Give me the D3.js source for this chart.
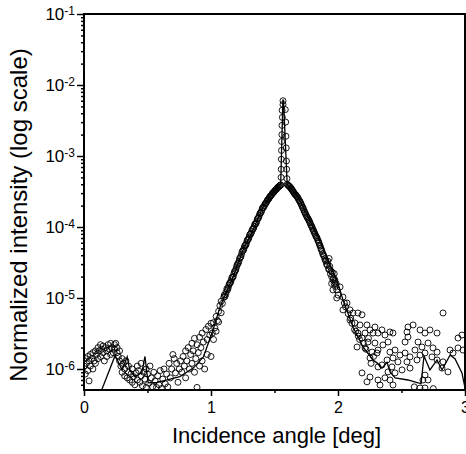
<!DOCTYPE html>
<html>
<head>
<meta charset="utf-8">
<script src="https://cdn.jsdelivr.net/npm/d3@7"></script>
<style>
  body { margin: 0; background: #fff; }
  svg { display: block; font-family: "Liberation Sans", Arial, sans-serif; }
</style>
</head>
<body>
<div id="chart"></div>
<script>
// measured reflectivity scan, [angle (deg), normalized intensity]
var scatterLow = [
  [0.00,1.1e-6],[0.01,1.4e-6],[0.01,8.5e-7],[0.02,1.2e-6],[0.03,1.5e-6],[0.03,9.5e-7],[0.04,1.3e-6],[0.04,6.8e-7],
  [0.05,1.1e-6],[0.05,1.6e-6],[0.06,1.4e-6],[0.07,1.0e-6],[0.07,1.7e-6],[0.08,1.3e-6],[0.09,1.8e-6],[0.09,1.2e-6],
  [0.10,1.6e-6],[0.11,2.0e-6],[0.11,1.4e-6],[0.12,1.8e-6],[0.13,2.2e-6],[0.13,1.5e-6],[0.14,1.9e-6],[0.15,1.7e-6],
  [0.15,2.1e-6],[0.16,1.3e-6],[0.17,2.0e-6],[0.18,1.8e-6],[0.18,1.5e-6],[0.19,2.2e-6],[0.20,1.9e-6],[0.21,1.6e-6],
  [0.21,2.3e-6],[0.22,2.0e-6],[0.23,1.7e-6],[0.24,2.2e-6],[0.24,1.9e-6],[0.25,2.3e-6],[0.26,1.7e-6],[0.26,2.0e-6],
  [0.27,1.5e-6],[0.28,1.3e-6],[0.28,1.8e-6],[0.29,1.1e-6],[0.30,1.4e-6],[0.30,9.0e-7],[0.31,1.2e-6],[0.32,8.0e-7],
  [0.32,1.0e-6],[0.33,1.3e-6],[0.34,7.5e-7],[0.35,9.0e-7],[0.35,1.1e-6],[0.36,7.0e-7],[0.37,8.5e-7],[0.38,6.5e-7],
  [0.38,1.0e-6],[0.39,7.8e-7],[0.40,6.0e-7],[0.41,8.8e-7],[0.42,7.0e-7],[0.42,1.1e-6],[0.43,9.5e-7],[0.44,6.5e-7],
  [0.45,8.0e-7],[0.45,1.2e-6],[0.46,5.8e-7],[0.47,9.0e-7],[0.48,7.2e-7],[0.49,1.0e-6],[0.49,5.5e-7],[0.50,8.5e-7],
  [0.51,6.3e-7],[0.52,1.1e-6],[0.53,7.5e-7],[0.54,5.6e-7],[0.55,9.0e-7],[0.56,6.8e-7]
];
var scatterRise = [
  [0.57,5.5e-7],[0.58,8.0e-7],[0.59,6.0e-7],[0.60,9.5e-7],[0.61,5.3e-7],[0.62,7.2e-7],[0.63,1.0e-6],[0.64,6.2e-7],
  [0.65,8.5e-7],[0.66,5.6e-7],[0.67,1.2e-6],[0.68,7.5e-7],[0.69,1.0e-6],[0.70,1.6e-6],[0.71,1.4e-6],[0.72,8.8e-7],
  [0.73,1.2e-6],[0.74,6.5e-7],[0.75,1.0e-6],[0.76,1.3e-6],[0.77,9.0e-7],[0.78,1.5e-6],[0.79,1.1e-6],[0.80,1.8e-6],
  [0.80,7.5e-7],[0.81,1.3e-6],[0.82,2.0e-6],[0.83,1.0e-6],[0.84,1.6e-6],[0.85,2.3e-6],[0.85,1.2e-6],[0.86,1.8e-6],
  [0.87,2.7e-6],[0.87,9.0e-7],[0.88,1.4e-6],[0.89,2.2e-6],[0.89,5.5e-7],[0.90,1.7e-6],[0.91,2.8e-6],[0.91,1.1e-6],
  [0.92,2.0e-6],[0.93,3.2e-6],[0.93,1.3e-6],[0.94,2.4e-6],[0.95,1.0e-6],[0.96,3.6e-6],[0.97,1.6e-6],[0.97,2.6e-6],
  [0.98,4.0e-6],[0.99,3.0e-6],[1.00,1.5e-6],[1.00,4.4e-6]
];
var scatterPeakLeft = [
  [1.01,3.2e-6],[1.02,4.5e-6],[1.02,2.6e-6],[1.03,3.8e-6],[1.04,5.5e-6],[1.04,3.4e-6],[1.05,4.8e-6],[1.06,6.5e-6],
  [1.06,4.6e-6],[1.07,7.8e-6],[1.08,6.2e-6],[1.08,9.0e-6],[1.09,8.4e-6],[1.10,1.02e-5],[1.105,1.1e-5],[1.11,1.05e-5],
  [1.115,1.12e-5],[1.12,1.22e-5],[1.125,1.35e-5],[1.13,1.3e-5],[1.135,1.38e-5],[1.14,1.5e-5],[1.145,1.6e-5],[1.15,1.62e-5],
  [1.155,1.68e-5],[1.16,1.8e-5],[1.165,1.95e-5],[1.17,1.95e-5],[1.175,2.0e-5],[1.18,2.2e-5],[1.185,2.35e-5],[1.19,2.4e-5],
  [1.195,2.5e-5],[1.20,2.7e-5],[1.205,2.9e-5],[1.21,3.0e-5],[1.215,3.1e-5],[1.22,3.3e-5],[1.225,3.6e-5],[1.23,3.7e-5],
  [1.235,3.8e-5],[1.24,4.1e-5],[1.245,4.5e-5],[1.25,4.6e-5],[1.255,4.7e-5],[1.26,5.0e-5],[1.265,5.4e-5],[1.27,5.5e-5],
  [1.275,5.6e-5],[1.28,6.0e-5],[1.285,6.5e-5],[1.29,6.6e-5],[1.295,6.8e-5],[1.30,7.2e-5],[1.305,7.8e-5],[1.31,7.9e-5],
  [1.315,8.1e-5],[1.32,8.6e-5],[1.325,9.2e-5],[1.33,9.3e-5],[1.335,9.6e-5],[1.34,1.02e-4],[1.345,1.1e-4],[1.35,1.1e-4],
  [1.355,1.13e-4],[1.36,1.2e-4],[1.365,1.3e-4],[1.37,1.32e-4],[1.375,1.36e-4],[1.38,1.45e-4],[1.385,1.55e-4],[1.39,1.58e-4],
  [1.395,1.62e-4],[1.40,1.72e-4],[1.405,1.85e-4],[1.41,1.88e-4],[1.415,1.9e-4],[1.42,2.0e-4],[1.425,2.1e-4],[1.43,2.15e-4],
  [1.435,2.2e-4],[1.44,2.3e-4],[1.445,2.4e-4],[1.45,2.45e-4],[1.455,2.5e-4],[1.46,2.6e-4],[1.465,2.7e-4],[1.47,2.75e-4],
  [1.475,2.8e-4],[1.48,2.9e-4],[1.485,3.0e-4],[1.49,3.05e-4],[1.495,3.1e-4],[1.50,3.2e-4],[1.505,3.3e-4],[1.51,3.35e-4],
  [1.515,3.4e-4],[1.52,3.5e-4],[1.525,3.6e-4],[1.53,3.65e-4],[1.535,3.7e-4],[1.54,3.8e-4],[1.545,3.9e-4],[1.55,3.9e-4]
];
var scatterSpike = [
  [1.567,6.0e-3],[1.567,5.3e-3],[1.560,4.4e-3],[1.562,3.5e-3],[1.559,2.7e-3],[1.558,2.0e-3],[1.556,1.6e-3],[1.555,1.2e-3],
  [1.554,9.0e-4],[1.553,6.5e-4],[1.552,5.0e-4],[1.585,4.5e-3],[1.588,3.0e-3],[1.590,1.9e-3],[1.592,1.3e-3],[1.594,8.5e-4],
  [1.596,6.5e-4],[1.598,4.8e-4]
];
var scatterPeakRight = [
  [1.60,4.0e-4],[1.605,3.9e-4],[1.61,3.85e-4],[1.615,3.75e-4],[1.62,3.7e-4],[1.625,3.6e-4],[1.63,3.5e-4],[1.635,3.4e-4],
  [1.64,3.3e-4],[1.645,3.2e-4],[1.65,3.1e-4],[1.655,3.0e-4],[1.66,2.9e-4],[1.665,2.85e-4],[1.67,2.8e-4],[1.675,2.7e-4],
  [1.68,2.65e-4],[1.685,2.55e-4],[1.69,2.45e-4],[1.695,2.35e-4],[1.70,2.3e-4],[1.705,2.2e-4],[1.71,2.1e-4],[1.715,2.0e-4],
  [1.72,1.9e-4],[1.725,1.85e-4],[1.73,1.75e-4],[1.735,1.65e-4],[1.74,1.6e-4],[1.745,1.52e-4],[1.75,1.45e-4],[1.755,1.4e-4],
  [1.76,1.35e-4],[1.765,1.3e-4],[1.77,1.25e-4],[1.775,1.2e-4],[1.78,1.15e-4],[1.785,1.08e-4],[1.79,1.04e-4],[1.795,1.0e-4],
  [1.80,9.5e-5],[1.805,9.0e-5],[1.81,8.7e-5],[1.815,8.2e-5],[1.82,7.9e-5],[1.825,7.5e-5],[1.83,7.2e-5],[1.835,7.0e-5],
  [1.84,6.6e-5],[1.845,6.3e-5],[1.85,6.0e-5],[1.855,5.6e-5],[1.86,5.4e-5],[1.865,5.0e-5],[1.87,4.8e-5],[1.875,4.5e-5],
  [1.88,4.2e-5],[1.885,4.0e-5],[1.89,3.9e-5],[1.895,3.6e-5],[1.90,3.4e-5],[1.905,3.3e-5],[1.91,3.0e-5],[1.915,2.9e-5],
  [1.92,3.3e-5],[1.925,2.6e-5],[1.93,2.5e-5],[1.93,3.6e-5],[1.935,2.8e-5],[1.94,2.2e-5],[1.945,2.4e-5],[1.95,2.0e-5],
  [1.95,1.6e-5],[1.955,2.3e-5],[1.96,1.8e-5],[1.96,1.3e-5],[1.965,1.9e-5],[1.97,1.6e-5],[1.97,2.2e-5],[1.975,1.8e-5],
  [1.98,1.45e-5],[1.985,1.6e-5],[1.99,1.3e-5],[1.99,1.0e-5]
];
var scatterTail = [
  [1.976,1.68e-5],[2.016,1.43e-5],[2.0,1.1e-5],[2.039,1.03e-5],[2.071,8.5e-6],[2.039,6.8e-6],[2.094,6.8e-6],[2.118,6.15e-6],
  [2.157,6.15e-6],[2.189,5.8e-6],[2.094,4.9e-6],[2.134,4.45e-6],[2.173,4.17e-6],[2.228,4.17e-6],[2.252,3.55e-6],[2.157,3.21e-6],
  [2.213,3.21e-6],[2.276,3.21e-6],[2.189,2.73e-6],[2.236,2.4e-6],[2.291,2.32e-6],[2.15,2.04e-6],[2.213,1.98e-6],[2.268,1.73e-6],
  [2.307,1.68e-6],[2.252,1.43e-6],[2.189,8.8e-7],[2.252,7.7e-7],[2.228,6.6e-7],[2.315,1.07e-6],
  [2.05,8.5e-6],[2.06,7.5e-6],[2.08,6.0e-6],[2.10,5.2e-6],[2.11,4.4e-6],[2.13,3.6e-6],[2.14,3.4e-6],[2.16,2.9e-6],
  [2.17,2.6e-6],[2.20,2.3e-6],[2.22,1.9e-6],[2.24,2.7e-6],[2.26,1.2e-6],[2.28,1.5e-6],
  [2.291,3.9e-6],[2.315,3.21e-6],[2.346,3.55e-6],[2.37,3.01e-6],[2.409,3.32e-6],[2.433,3.21e-6],[2.394,2.4e-6],[2.354,2.18e-6],
  [2.315,1.85e-6],[2.409,1.73e-6],[2.449,1.85e-6],[2.488,1.57e-6],[2.528,1.68e-6],[2.433,1.43e-6],[2.472,1.26e-6],[2.386,1.34e-6],
  [2.346,1.14e-6],[2.425,1.07e-6],[2.394,9.1e-7],[2.449,8.8e-7],[2.37,7.5e-7],[2.315,7.0e-7],[2.409,7.0e-7],[2.331,5.95e-7],
  [2.433,5.95e-7],[2.528,2.4e-6],[2.551,2.82e-6],[2.543,3.32e-6],[2.551,3.9e-6],[2.591,4.17e-6],[2.646,3.55e-6],[2.685,3.21e-6],
  [2.724,3.55e-6],[2.78,3.21e-6],[2.827,6.15e-6],[2.661,2.04e-6],[2.685,1.68e-6],[2.646,1.57e-6],[2.622,1.34e-6],[2.709,2.32e-6],
  [2.748,1.98e-6],[2.78,1.73e-6],[2.74,1.48e-6],[2.78,1.34e-6],[2.827,1.26e-6],[2.882,1.85e-6],[2.906,1.68e-6],[2.945,1.98e-6],
  [2.819,1.03e-6],[2.866,9.1e-7],[2.685,8.2e-7],[2.709,7.0e-7],[2.669,7.0e-7],[2.646,5.4e-7],[2.685,5.4e-7],[2.945,2.73e-6],
  [2.976,3.01e-6],[2.984,1.85e-6],[2.63,2.4e-6],[2.606,1.85e-6],[2.567,1.48e-6],[2.543,1.26e-6],[2.567,1.03e-6],[2.504,9.7e-7],
  [2.60,5.6e-7],[2.75,5.3e-7]
];

// fitted curve
var fitAngle = [0.14,0.245,0.30,0.34,0.36,0.40,0.455,0.48,0.505,0.575,0.655,0.755,0.86,0.94,1.016,1.071,1.173,1.252,1.331,
  1.409,1.465,1.504,1.545,1.549,1.566,1.571,1.600,1.606,1.685,1.764,1.843,1.921,1.992,2.039,2.118,2.197,2.276,2.307,2.346,
  2.386,2.41,2.449,2.551,2.63,2.654,2.677,2.724,2.78,2.819,2.882,2.921,2.976,3.0];
var fitIntensity = [5.1e-7,1.55e-6,9.7e-7,1.48e-6,9.7e-7,7.8e-7,8.8e-7,1.5e-6,6.4e-7,6.5e-7,7.0e-7,7.8e-7,1.03e-6,1.48e-6,
  3.55e-6,7.5e-6,1.98e-5,4.7e-5,9.1e-5,1.91e-4,2.65e-4,3.32e-4,4.0e-4,4.0e-4,6.1e-3,6.1e-3,3.9e-4,3.9e-4,2.65e-4,1.38e-4,
  7.2e-5,3.43e-5,1.79e-5,9.4e-6,3.9e-6,2.04e-6,1.34e-6,1.22e-6,1.03e-6,1.24e-6,9.1e-7,7.5e-7,7.0e-7,6.4e-7,6.2e-7,1.52e-6,
  9.7e-7,1.34e-6,9.7e-7,1.57e-6,1.4e-6,8.8e-7,5.4e-7];

var xMajorTicks = [0, 1, 2, 3];
var xMinorTicks = [0.5, 1.5, 2.5];
var yDecades = [1e-6, 1e-5, 1e-4, 1e-3, 1e-2, 1e-1];

var svgWidth = 466, svgHeight = 454;
var margin = {top: 14, right: 1, bottom: 64, left: 84};
var width = svgWidth - margin.left - margin.right;
var height = svgHeight - margin.top - margin.bottom;

var svg = d3.select("#chart").append("svg")
    .attr("width", svgWidth)
    .attr("height", svgHeight);

var g = svg.append("g")
    .attr("transform", "translate(" + margin.left + "," + margin.top + ")");

var x = d3.scaleLinear().domain([0, 3]).range([0, width]);
var y = d3.scaleLog().domain([5.06e-7, 0.1]).range([height, 0]);

g.append("clipPath").attr("id", "plotClip")
  .append("rect").attr("width", width).attr("height", height);

var plot = g.append("g").attr("clip-path", "url(#plotClip)");

var points = scatterLow.concat(scatterRise, scatterPeakLeft, scatterSpike, scatterPeakRight, scatterTail);

plot.selectAll(".pt")
    .data(points)
    .enter().append("circle")
    .attr("class", "pt")
    .attr("cx", function(d) { return x(d[0]); })
    .attr("cy", function(d) { return y(d[1]); })
    .attr("r", 3)
    .attr("fill", "none")
    .attr("stroke", "#000")
    .attr("stroke-width", 0.9);

var fit = fitAngle.map(function(a, i) { return [a, fitIntensity[i]]; });
plot.append("path")
    .datum(fit)
    .attr("fill", "none")
    .attr("stroke", "#000")
    .attr("stroke-width", 1.3)
    .attr("d", d3.line()
        .x(function(d) { return x(d[0]); })
        .y(function(d) { return y(d[1]); }));

// minor y ticks
var yMinor = [];
[-7, -6, -5, -4, -3, -2].forEach(function(e) {
    for (var k = 2; k <= 9; k++) {
        var v = k * Math.pow(10, e);
        if (v >= 5.06e-7 && v < 0.1) yMinor.push(v);
    }
});

g.append("g")
    .attr("class", "axis")
    .call(d3.axisLeft(y).tickValues(yMinor).tickSize(3).tickFormat(""));

var yAxis = g.append("g")
    .attr("class", "axis")
    .call(d3.axisLeft(y).tickValues(yDecades).tickSize(7).tickPadding(2).tickFormat(""));

g.append("g")
    .attr("class", "axis")
    .attr("transform", "translate(0," + height + ")")
    .call(d3.axisBottom(x).tickValues(xMinorTicks).tickSize(3).tickFormat(""));

g.append("g")
    .attr("class", "axis")
    .attr("transform", "translate(0," + height + ")")
    .call(d3.axisBottom(x).tickValues(xMajorTicks).tickSize(6).tickPadding(6).tickFormat(d3.format("d")));

g.selectAll(".axis .domain").remove();
g.selectAll(".axis line").attr("stroke", "#000").attr("stroke-width", 1.5);
g.selectAll(".axis text").attr("fill", "#000").attr("font-size", "16px")
    .attr("font-family", "'Liberation Sans', Arial, sans-serif");

yAxis.selectAll(".tick text").attr("font-size", "17px").each(function(d) {
    var t = d3.select(this);
    t.append("tspan").text("10");
    t.append("tspan").attr("dy", "-0.45em").attr("font-size", "12px").text(Math.round(Math.log10(d)));
});

// frame
g.append("rect")
    .attr("width", width)
    .attr("height", height)
    .attr("fill", "none")
    .attr("stroke", "#000")
    .attr("stroke-width", 2);

svg.append("text")
    .attr("x", margin.left + width / 2 + 2)
    .attr("y", 443)
    .attr("text-anchor", "middle")
    .attr("font-size", "22px")
    .text("Incidence angle [deg]");

svg.append("text")
    .attr("transform", "translate(27," + 215 + ") rotate(-90)")
    .attr("text-anchor", "middle")
    .attr("font-size", "24px")
    .text("Normalized intensity (log scale)");
</script>
</body>
</html>
